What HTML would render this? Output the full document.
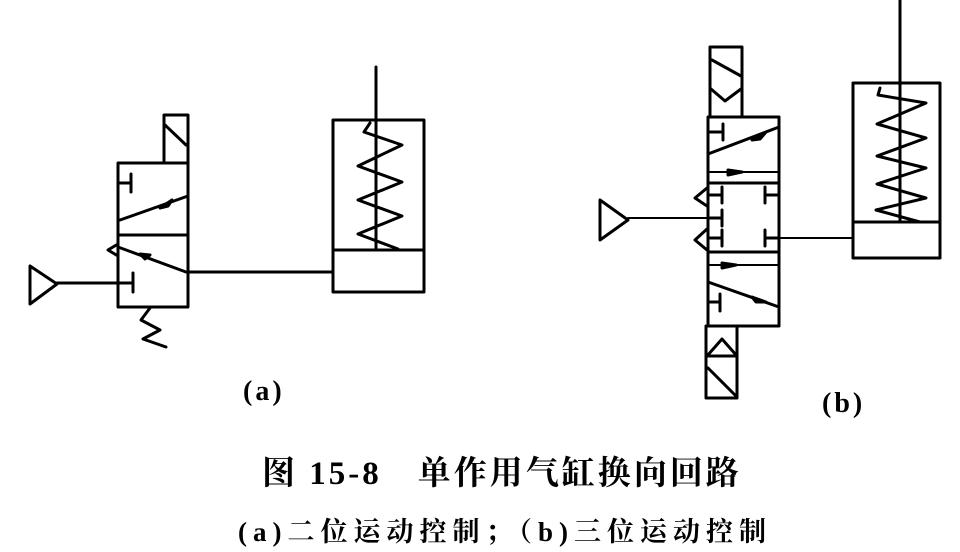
<!DOCTYPE html>
<html><head><meta charset="utf-8"><style>
html,body{margin:0;padding:0;background:#fff;}
body{width:960px;height:552px;position:relative;overflow:hidden;}
.t{position:absolute;font-family:"Liberation Serif","Noto Serif CJK SC","Noto Sans CJK SC",serif;color:#000;white-space:nowrap;font-weight:bold;}
</style></head><body>
<svg width="960" height="552" style="position:absolute;left:0;top:0" fill="none" stroke="#000" stroke-width="3" stroke-linejoin="round" stroke-linecap="round">
<!-- (a) valve -->
<rect x="118" y="163" width="70" height="144"/>
<line x1="118" y1="235" x2="188" y2="235"/>
<rect x="164" y="115" width="24" height="48"/>
<line x1="165" y1="125" x2="186" y2="145"/>
<line x1="118" y1="183" x2="130" y2="183"/><line x1="131" y1="174" x2="131" y2="192"/>
<line x1="120" y1="220" x2="188" y2="196"/><path d="M160 208 L172 200 L168 206 Z" fill="#000"/>
<line x1="118" y1="247" x2="186" y2="272"/><path d="M140 254 L150 255 L145 259 Z" fill="#000"/>
<path d="M118 244 L108 250 L118 256"/>
<line x1="118" y1="283" x2="132" y2="283"/><line x1="133" y1="273" x2="133" y2="292"/>
<path d="M30 266 L30 304 L57 284 Z"/>
<line x1="57" y1="283" x2="118" y2="283"/>
<line x1="188" y1="272" x2="333" y2="272"/>
<path d="M150 308 L141 320 L160 330 L143 339 L166 347"/>
<!-- (a) cylinder -->
<rect x="333" y="120" width="91" height="172"/>
<line x1="333" y1="250" x2="424" y2="250"/>
<line x1="376" y1="67" x2="376" y2="250"/>
<path d="M370 123 L364 132 L402 145 L358 166 L402 182 L358 200 L402 216 L358 234 L398 249"/>
<!-- (b) valve -->
<rect x="708" y="117" width="71" height="209"/>
<line x1="708" y1="183" x2="779" y2="183"/>
<line x1="708" y1="252" x2="779" y2="252"/>
<line x1="710" y1="172" x2="779" y2="172" stroke-width="2"/><path d="M728 170 L742 172 L728 175 Z" fill="#000"/>
<line x1="710" y1="265" x2="779" y2="265" stroke-width="2"/><path d="M722 263 L736 265 L722 268 Z" fill="#000"/>
<line x1="710" y1="132" x2="722" y2="132"/><line x1="723" y1="124" x2="723" y2="140"/>
<line x1="708" y1="154" x2="779" y2="127"/><path d="M752 140 L766 132 L760 139 Z" fill="#000"/>
<line x1="708" y1="282" x2="779" y2="307"/><path d="M752 297 L766 302 L756 302 Z" fill="#000"/>
<line x1="710" y1="302" x2="719" y2="302"/><line x1="720" y1="294" x2="720" y2="311"/>
<line x1="710" y1="195" x2="721" y2="195"/><line x1="722" y1="187" x2="722" y2="203"/>
<line x1="710" y1="218" x2="721" y2="218"/><line x1="722" y1="210" x2="722" y2="226"/>
<line x1="710" y1="238" x2="721" y2="238"/><line x1="722" y1="230" x2="722" y2="246"/>
<line x1="766" y1="195" x2="779" y2="195"/><line x1="765" y1="187" x2="765" y2="203"/>
<line x1="766" y1="238" x2="779" y2="238"/><line x1="765" y1="230" x2="765" y2="246"/>
<path d="M707 188 L695 198 L707 206"/>
<path d="M707 229 L695 240 L707 250"/>
<rect x="710" y="47" width="32" height="70"/>
<line x1="712" y1="60" x2="741" y2="76"/>
<path d="M711 89 L725 101 L741 89"/>
<rect x="706" y="326" width="31" height="72"/>
<path d="M707 356 L722 339 L737 356"/>
<line x1="706" y1="356" x2="737" y2="356"/>
<line x1="708" y1="368" x2="736" y2="396"/>
<path d="M600 200 L600 240 L628 220 Z"/>
<line x1="628" y1="218" x2="708" y2="218" stroke-width="2"/>
<line x1="779" y1="238" x2="853" y2="238" stroke-width="2"/>
<!-- (b) cylinder -->
<rect x="853" y="83" width="87" height="175"/>
<line x1="853" y1="222" x2="940" y2="222"/>
<line x1="900" y1="0" x2="900" y2="222"/>
<path d="M880 88 L878 95 L926 103 L877 124 L926 138 L877 156 L926 168 L877 184 L926 198 L876 210 L920 222"/>
</svg>
<div class="t" style="left:243px;top:376px;font-size:28px;letter-spacing:3px;">(a)</div>
<div class="t" style="left:822px;top:388px;font-size:28px;letter-spacing:3px;">(b)</div>
<div class="t" style="left:262px;top:447px;font-size:33px;letter-spacing:3px;">图 15-8　单作用气缸换向回路</div>
<div class="t" style="left:238px;top:510px;font-size:27px;letter-spacing:6px;">(a)二位运动控制；（b)三位运动控制</div>
</body></html>
